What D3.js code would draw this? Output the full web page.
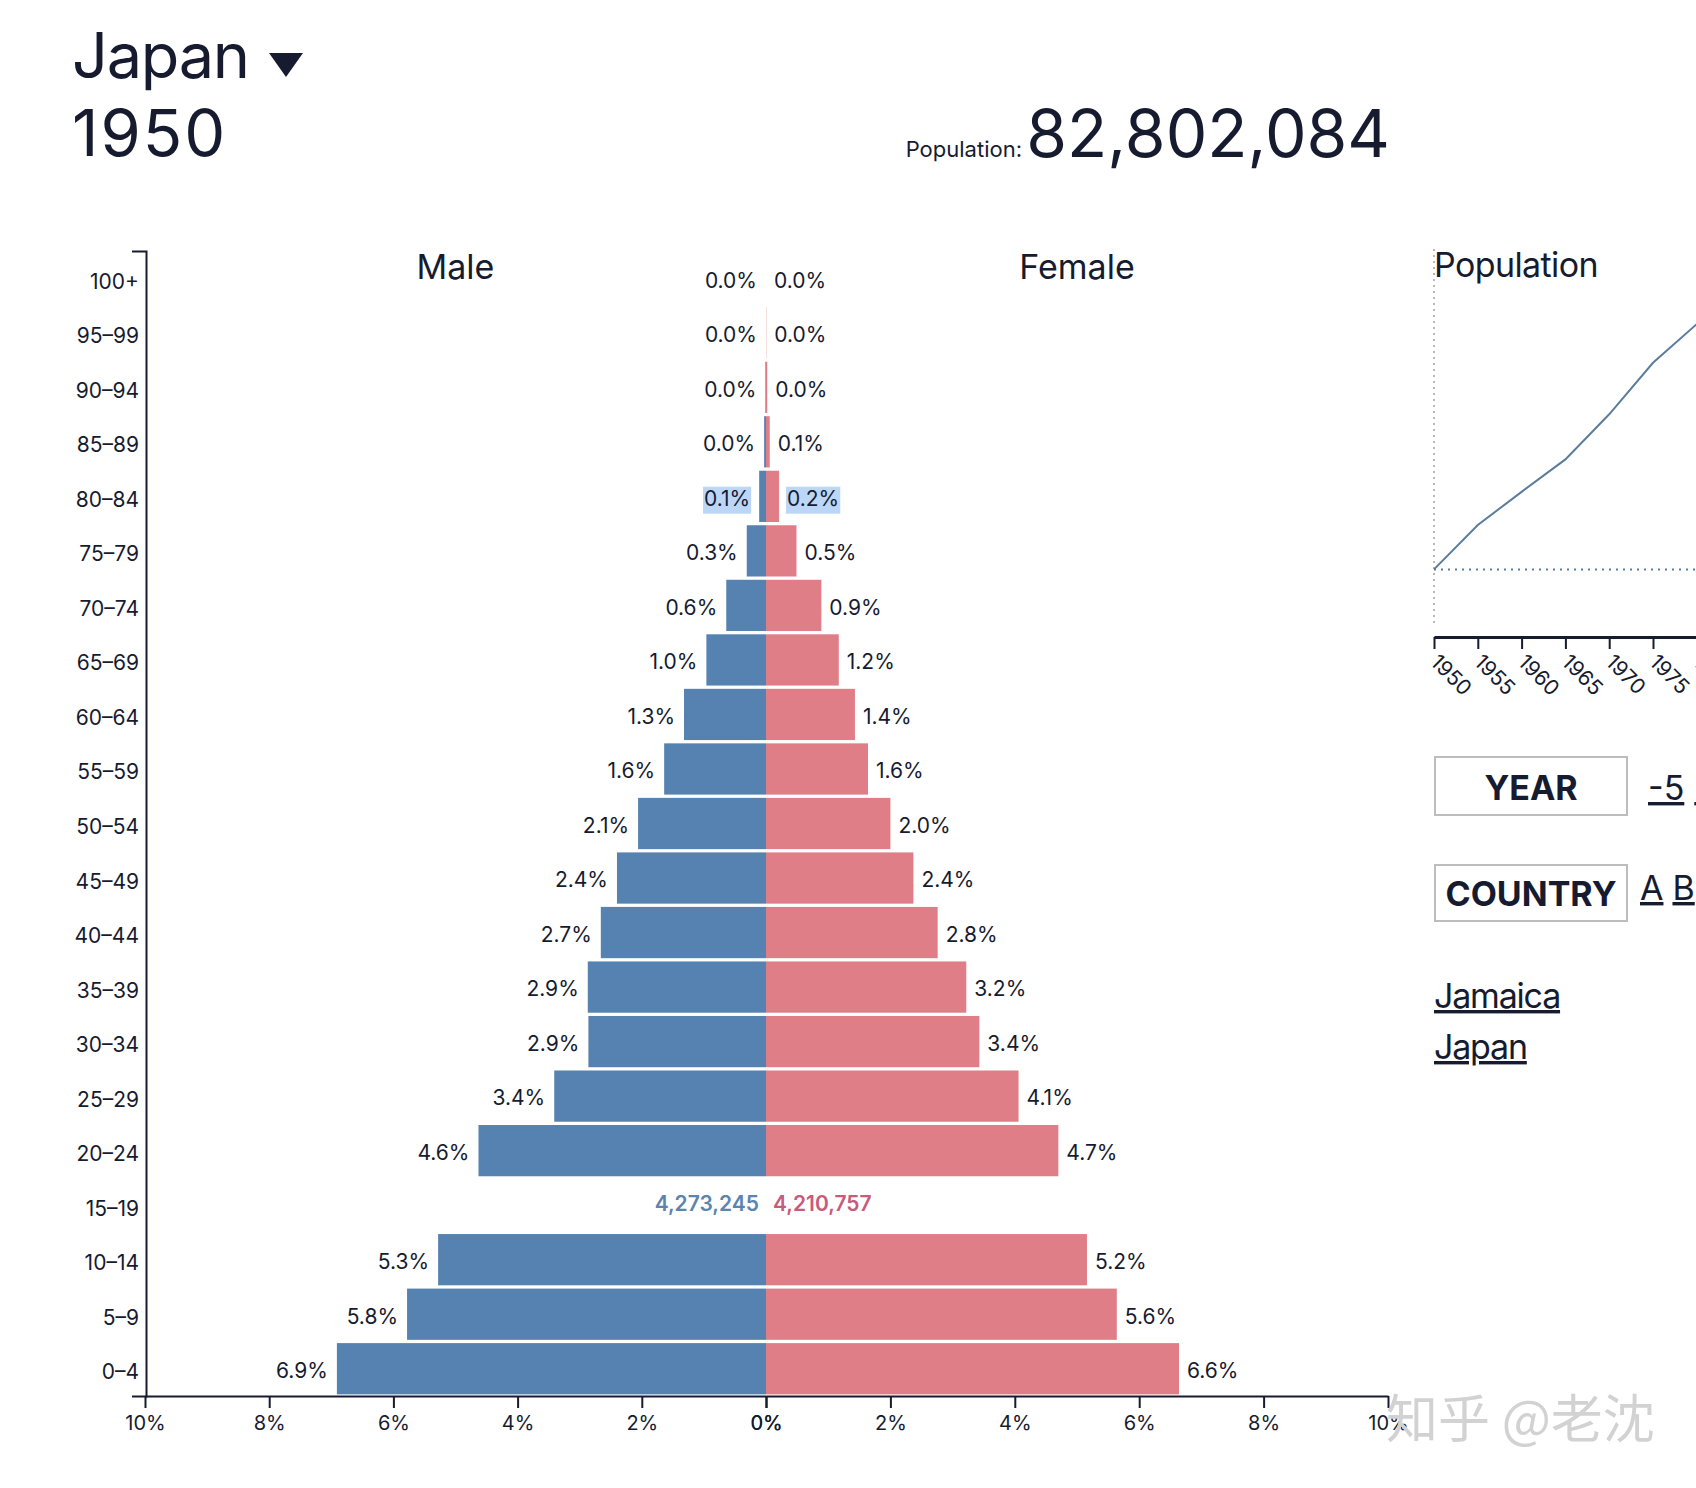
<!DOCTYPE html>
<html>
<head>
<meta charset="utf-8">
<script src="https://cdn.jsdelivr.net/npm/d3@7"></script>
<style>
  html, body { margin: 0; padding: 0; background: #fff; overflow: hidden; }
  svg { display: block; font-family: Inter, "Noto Sans", sans-serif; }
  text { fill: #161b2f; }
</style>
</head>
<body>
<svg id="chart" width="1696" height="1488"></svg>
<script>
// ---------------- DATA ----------------
const country = "Japan";
const year = 1950;
const totalPopulation = 82802084;

const ageGroups = ["0–4","5–9","10–14","15–19","20–24","25–29","30–34","35–39","40–44","45–49",
  "50–54","55–59","60–64","65–69","70–74","75–79","80–84","85–89","90–94","95–99","100+"];
const malePct   = [6.91,5.78,5.28,5.16,4.63,3.41,2.86,2.87,2.66,2.40,2.06,1.64,1.32,0.96,0.64,0.31,0.11,0.03,0.01,0.00,0.00];
const femalePct = [6.64,5.64,5.16,5.09,4.70,4.06,3.43,3.22,2.76,2.37,2.00,1.64,1.43,1.17,0.89,0.49,0.21,0.06,0.02,0.004,0.00];

const hoveredAge = "15–19";
const hoveredMaleCount = 4273245;
const hoveredFemaleCount = 4210757;
const selectedAge = "80–84";

const pctTicks = [0, 2, 4, 6, 8, 10];

const popYears = [1950,1955,1960,1965,1970,1975,1980,1985,1990,1995,2000,2005,2010,2015,2020];
const popValues = [82802084,89100000,93800000,98400000,104800000,112100000,117600000,121000000,
  123500000,125400000,126800000,127800000,128100000,127100000,125800000];

const yearSteps = ["-5","-1","+1","+5"];
const letters = ["A","B","C","D","E","F","G","H"];
const countryLinks = ["Jamaica","Japan"];
const watermark = "知乎 @老沈";

// ---------------- COLORS ----------------
const maleColor = "#5582b0";
const femaleColor = "#e07e88";
const textColor = "#161b2f";

const svg = d3.select("#chart");

// ---------------- HEADER ----------------
svg.append("text").attr("x", 72).attr("y", 78).attr("font-size", 63)
  .attr("letter-spacing", -1.3).text(country);
svg.append("path").attr("d", "M269,53 L303,53 L286,77 Z").attr("fill", textColor);
svg.append("text").attr("x", 72).attr("y", 156).attr("font-size", 65)
  .attr("letter-spacing", 2).text(year);
svg.append("text").attr("x", 1390).attr("y", 157).attr("font-size", 66)
  .attr("text-anchor", "end").text(d3.format(",")(totalPopulation));
svg.append("text").attr("x", 1022).attr("y", 157).attr("font-size", 22)
  .attr("text-anchor", "end").text("Population:");

// ---------------- PYRAMID ----------------
const x0 = 766;
const xMale = d3.scaleLinear().domain([0, 10]).range([x0, 145]);
const xFemale = d3.scaleLinear().domain([0, 10]).range([x0, 1388]);
const y = d3.scaleBand().domain(ageGroups.slice().reverse()).range([251, 1396])
  .paddingInner(0.06).paddingOuter(0.03);

const rows = ageGroups.map((a, i) => ({ age: a, m: malePct[i], f: femalePct[i] }));
const barRows = rows.filter(d => d.age !== hoveredAge);
const fmt = d3.format(".1f");

svg.append("g").selectAll("rect").data(barRows).join("rect")
  .attr("x", d => xMale(d.m)).attr("width", d => x0 - xMale(d.m))
  .attr("y", d => y(d.age)).attr("height", y.bandwidth())
  .attr("fill", maleColor);
svg.append("g").selectAll("rect").data(barRows).join("rect")
  .attr("x", x0).attr("width", d => xFemale(d.f) - x0)
  .attr("y", d => y(d.age)).attr("height", y.bandwidth())
  .attr("fill", femaleColor);

const hlG = svg.append("g");
const mLabels = svg.append("g").selectAll("text").data(barRows).join("text")
  .attr("x", d => xMale(d.m) - 9).attr("y", d => y(d.age) + y.bandwidth() / 2 + 2)
  .attr("dy", "0.35em").attr("text-anchor", "end").attr("font-size", 21)
  .text(d => fmt(d.m) + "%");
const fLabels = svg.append("g").selectAll("text").data(barRows).join("text")
  .attr("x", d => xFemale(d.f) + 8).attr("y", d => y(d.age) + y.bandwidth() / 2 + 2)
  .attr("dy", "0.35em").attr("text-anchor", "start").attr("font-size", 21)
  .text(d => fmt(d.f) + "%");

// selection highlight for one row
[mLabels, fLabels].forEach(sel => {
  sel.filter(d => d.age === selectedAge).each(function() {
    const b = this.getBBox();
    hlG.append("rect").attr("x", b.x - 1).attr("y", b.y + 1)
      .attr("width", b.width + 2).attr("height", b.height + 2)
      .attr("fill", "#bcd6f7");
  });
});

// hovered row counts
const hy = y(hoveredAge) + y.bandwidth() / 2;
svg.append("text").attr("x", x0 - 7).attr("y", hy).attr("dy", "0.3em")
  .attr("text-anchor", "end").attr("font-size", 21).attr("font-weight", 600)
  .style("fill", "#5b84ae").text(d3.format(",")(hoveredMaleCount));
svg.append("text").attr("x", x0 + 7).attr("y", hy).attr("dy", "0.3em")
  .attr("text-anchor", "start").attr("font-size", 21).attr("font-weight", 600)
  .style("fill", "#c85a7d").text(d3.format(",")(hoveredFemaleCount));

// section titles
svg.append("text").attr("x", (145 + x0) / 2).attr("y", 279).attr("font-size", 34)
  .attr("text-anchor", "middle").text("Male");
svg.append("text").attr("x", (x0 + 1388) / 2).attr("y", 279).attr("font-size", 34)
  .attr("text-anchor", "middle").text("Female");

// axes
function styleAxis(g) {
  g.selectAll("path.domain").attr("stroke", textColor).attr("stroke-width", 2);
  g.selectAll(".tick line").attr("stroke", textColor).attr("stroke-width", 2);
  g.selectAll(".tick text").attr("font-size", 20).attr("font-family", "Inter, sans-serif")
    .style("fill", textColor);
}
const yAxisG = svg.append("g").attr("transform", "translate(146,0)")
  .call(d3.axisLeft(y).tickSizeInner(0).tickSizeOuter(14).tickPadding(7));
styleAxis(yAxisG);
yAxisG.selectAll(".tick text").attr("font-size", 21).attr("dy", "0.5em");

const xAxisL = svg.append("g").attr("transform", "translate(0,1396)")
  .call(d3.axisBottom(xMale).tickValues(pctTicks).tickFormat(d => d + "%")
    .tickSize(12).tickSizeOuter(0).tickPadding(8));
styleAxis(xAxisL);
const xAxisR = svg.append("g").attr("transform", "translate(0,1396)")
  .call(d3.axisBottom(xFemale).tickValues(pctTicks).tickFormat(d => d + "%")
    .tickSize(12).tickSizeOuter(0).tickPadding(8));
styleAxis(xAxisR);

// ---------------- POPULATION LINE ----------------
const px = d3.scaleLinear().domain([1950, 2020]).range([1434, 1434 + 70 * 8.76]);
const py = d3.scaleLinear().domain([75.2e6, d3.max(popValues)]).range([623, 250]);

svg.append("text").attr("x", 1434).attr("y", 277).attr("font-size", 34)
  .attr("letter-spacing", -0.6).text("Population");

svg.append("line").attr("x1", px(year)).attr("x2", px(year)).attr("y1", 249).attr("y2", 623)
  .attr("stroke", "#8a8a8a").attr("stroke-width", 1.2).attr("stroke-dasharray", "2,4");
const curPop = popValues[popYears.indexOf(year)];
svg.append("line").attr("x1", px(year)).attr("x2", 1700).attr("y1", py(curPop)).attr("y2", py(curPop))
  .attr("stroke", "#5a7d9c").attr("stroke-width", 2).attr("stroke-dasharray", "2,5");

svg.append("path").datum(popYears.map((yr, i) => [yr, popValues[i]]))
  .attr("fill", "none").attr("stroke", "#5a7d9c").attr("stroke-width", 2)
  .attr("d", d3.line().x(d => px(d[0])).y(d => py(d[1])));

const pAxis = svg.append("g").attr("transform", "translate(0,637)")
  .call(d3.axisBottom(px).tickValues(popYears).tickFormat(d3.format("d"))
    .tickSize(12).tickSizeOuter(0));
pAxis.selectAll("path.domain").attr("stroke", textColor).attr("stroke-width", 3);
pAxis.selectAll(".tick line").attr("stroke", textColor).attr("stroke-width", 2);
pAxis.selectAll(".tick text").attr("font-size", 21).attr("font-family", "Inter, sans-serif")
  .style("fill", textColor).attr("text-anchor", "start")
  .attr("y", 0).attr("dy", 0)
  .attr("transform", "translate(6,15) rotate(45)")
  .attr("dominant-baseline", "hanging");

// ---------------- CONTROLS ----------------
function box(y0, h, label, baseline) {
  svg.append("rect").attr("x", 1435).attr("y", y0).attr("width", 192).attr("height", h)
    .attr("fill", "none").attr("stroke", "#bdbdbd").attr("stroke-width", 2);
  svg.append("text").attr("x", 1531).attr("y", baseline).attr("text-anchor", "middle")
    .attr("font-size", 34).attr("font-weight", 700).text(label);
}
box(757, 58, "YEAR", 800);
box(865, 56, "COUNTRY", 906);

function linkRow(items, xStart, yBase, gap) {
  let cx = xStart;
  items.forEach(t => {
    const el = svg.append("text").attr("x", cx).attr("y", yBase).attr("font-size", 34)
      .style("text-decoration", "underline").text(t);
    cx += el.node().getComputedTextLength() + gap;
  });
}
linkRow(yearSteps, 1648, 800, 10);
linkRow(letters, 1640, 900, 9);

countryLinks.forEach((c, i) => {
  svg.append("text").attr("x", 1434).attr("y", 1008 + i * 51).attr("font-size", 34)
    .attr("letter-spacing", -1.2)
    .style("text-decoration", "underline").text(c);
});

// watermark
svg.append("text").attr("x", 1386).attr("y", 1438).attr("font-size", 52)
  .attr("font-family", "'Noto Sans CJK SC', sans-serif")
  .style("fill", "#d2d2d2").text(watermark);
</script>
</body>
</html>
